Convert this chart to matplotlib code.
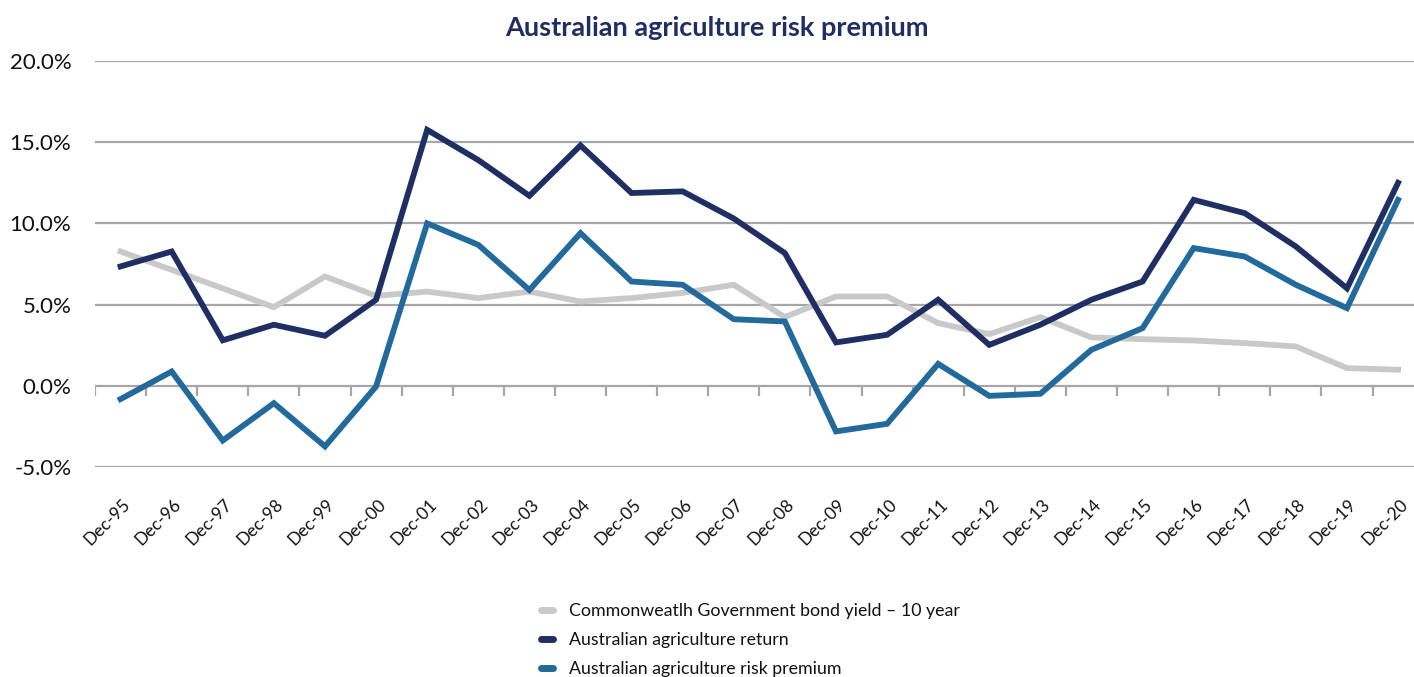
import numpy as np
import matplotlib
matplotlib.use("Agg")
from matplotlib import pyplot as plt
from matplotlib.lines import Line2D
from matplotlib.transforms import ScaledTranslation
from matplotlib.ticker import FuncFormatter

plt.rcParams['font.family'] = ['Lato', 'DejaVu Sans']

# data (per cent)
dates = ['Dec-95', 'Dec-96', 'Dec-97', 'Dec-98', 'Dec-99', 'Dec-00', 'Dec-01',
         'Dec-02', 'Dec-03', 'Dec-04', 'Dec-05', 'Dec-06', 'Dec-07', 'Dec-08',
         'Dec-09', 'Dec-10', 'Dec-11', 'Dec-12', 'Dec-13', 'Dec-14', 'Dec-15',
         'Dec-16', 'Dec-17', 'Dec-18', 'Dec-19', 'Dec-20']

bond_yield = [8.27, 7.14, 6.0, 4.84, 6.73, 5.54, 5.8, 5.4, 5.8, 5.19, 5.4, 5.72,
              6.22, 4.23, 5.5, 5.5, 3.86, 3.18, 4.23, 2.98, 2.87, 2.79, 2.63,
              2.42, 1.09, 0.99]

ag_return = [7.35, 8.27, 2.8, 3.76, 3.08, 5.3, 15.76, 13.9, 11.7, 14.8, 11.87,
             11.97, 10.3, 8.17, 2.67, 3.14, 5.3, 2.52, 3.76, 5.3, 6.42, 11.45,
             10.63, 8.58, 6.0, 12.5]

risk_premium = [-0.82, 0.88, -3.37, -1.07, -3.73, -0.04, 10.0, 8.68, 5.9, 9.4,
                6.42, 6.22, 4.1, 3.96, -2.81, -2.34, 1.35, -0.62, -0.49, 2.22,
                3.55, 8.48, 7.96, 6.22, 4.78, 11.45]

# spelling kept as in the original legend
series_names = ['Commonweatlh Government bond yield \u2013 10 year',
                'Australian agriculture return',
                'Australian agriculture risk premium']

colors = ['#C8C9C8', '#1F2F63', '#22699C']
grid_col = '#A6A6A6'

fig = plt.figure(figsize=(14.14, 6.77), dpi=100)
ax = fig.add_axes([0.0672, 0.3102, 0.9396, 0.5997])

x = np.arange(len(dates))
for vals, c in zip([bond_yield, ag_return, risk_premium], colors):
    ax.plot(x, vals, color=c, lw=4.2, solid_joinstyle='miter')

ax.set_xlim(-0.5, len(dates) - 0.5)
ax.set_ylim(-5, 20)
ax.set_yticks(np.arange(-5, 21, 5))
ax.yaxis.set_major_formatter(FuncFormatter(lambda v, p: '%.1f%%' % v))
ax.yaxis.grid(True, color=grid_col, lw=1.6)
ax.set_axisbelow(True)
for s in ax.spines.values():
    s.set_visible(False)

# small category ticks hanging off the zero line
ax.vlines(np.arange(len(dates) + 1) - 0.5, -0.65, 0, color=grid_col, lw=1.6, zorder=1)

ax.tick_params(axis='y', length=0, pad=17, labelsize=16, labelcolor='#111111')
ax.set_xticks(x)
ax.set_xticklabels(dates, rotation=45, ha='right', va='center',
                   rotation_mode='anchor', fontsize=12.5, color='#111111')
ax.tick_params(axis='x', length=0, pad=25)
shift = ScaledTranslation(5 / 72, 0, fig.dpi_scale_trans)
for lbl in ax.get_xticklabels():
    lbl.set_transform(lbl.get_transform() + shift)

fig.text(0.507, 0.9586, 'Australian agriculture risk premium', ha='center',
         va='center', fontsize=19.5, fontweight='bold', color='#1F2F63')

handles = [Line2D([], [], color=c, lw=5, solid_capstyle='round') for c in colors]
fig.legend(handles, series_names, loc='center left',
           bbox_to_anchor=(0.3823, 0.0547), frameon=False, fontsize=12.8,
           handlelength=0.7, handletextpad=0.9, labelspacing=0.72,
           borderpad=0, borderaxespad=0, labelcolor='#111111')

fig.savefig('out.png', dpi=100)
